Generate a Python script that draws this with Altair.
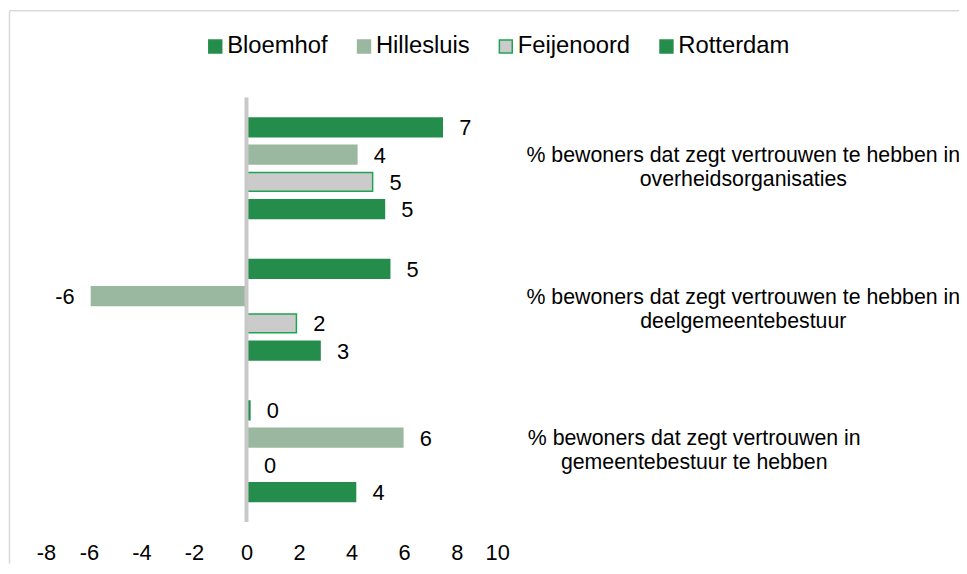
import altair as alt
import pandas as pd

# ---- data ----
categories = [
    "% bewoners dat zegt vertrouwen te hebben in overheidsorganisaties",
    "% bewoners dat zegt vertrouwen te hebben in deelgemeentebestuur",
    "% bewoners dat zegt vertrouwen in gemeentebestuur te hebben",
]
category_lines = [
    ["% bewoners dat zegt vertrouwen te hebben in", "overheidsorganisaties"],
    ["% bewoners dat zegt vertrouwen te hebben in", "deelgemeentebestuur"],
    ["% bewoners dat zegt vertrouwen in", "gemeentebestuur te hebben"],
]
series = ["Bloemhof", "Hillesluis", "Feijenoord", "Rotterdam"]
bloemhof = [7.45, 5.45, 0.13]
hillesluis = [4.2, -5.9, 5.95]
feijenoord = [4.8, 1.9, 0.02]
rotterdam = [5.25, 2.8, 4.15]
x_ticks = [-8, -6, -4, -2, 0, 2, 4, 6, 8, 10]

fill_colors = ["#248d4c", "#9ab89f", "#cacbca", "#248d4c"]
stroke_colors = ["#248d4c", "#9ab89f", "#1fa453", "#248d4c"]

values = {"Bloemhof": bloemhof, "Hillesluis": hillesluis,
          "Feijenoord": feijenoord, "Rotterdam": rotterdam}
rows = []
for s in series:
    for c, v in zip(categories, values[s]):
        rows.append({"cat": c, "series": s, "value": v})
df = pd.DataFrame(rows)

cat_df = pd.DataFrame({
    "cat": categories,
    "label": ["|".join(l) for l in category_lines],
    "idx": list(range(len(categories))),
})
zero_df = pd.DataFrame({"value": [0]})
one_df = pd.DataFrame({"a": [0]})

FONT = "Liberation Sans"

x_enc = alt.X(
    "value:Q",
    scale=alt.Scale(domain=[-8, 10], nice=False, zero=False),
    axis=alt.Axis(values=x_ticks, title=None, grid=False, domain=False,
                  ticks=False, labelFontSize=22, labelFont=FONT,
                  labelColor="#000000", labelPadding=21,
                  labelExpr="toString(datum.value)"),
)
y_enc = alt.Y("cat:N", scale=alt.Scale(domain=categories, paddingInner=0,
                                        paddingOuter=0), axis=None)
yoff = alt.YOffset("series:N", scale=alt.Scale(domain=series,
                                               paddingInner=0.31,
                                               paddingOuter=0.75))

legend = alt.Legend(title=None, orient="none", legendX=168.5, legendY=-63.5,
                    direction="horizontal", symbolType="square",
                    symbolSize=169, symbolStrokeWidth=1.5,
                    labelFontSize=24, labelFont=FONT, labelColor="#000000",
                    labelOffset=0, columnPadding=24, padding=0)

bars = alt.Chart(df).mark_bar(strokeWidth=1.5).encode(
    x=x_enc, y=y_enc, yOffset=yoff,
    fill=alt.Fill("series:N", scale=alt.Scale(domain=series, range=fill_colors),
                  legend=legend),
    stroke=alt.Stroke("series:N", scale=alt.Scale(domain=series,
                                                  range=stroke_colors),
                      legend=legend),
)

zero_rule = alt.Chart(zero_df).mark_rule(color="#c8c8c8", strokeWidth=4).encode(
    x=x_enc
)

lab_base = alt.Chart(df).transform_calculate(
    lab="toString(round(datum.value))"
)
pos_labels = lab_base.transform_filter("datum.value >= 0").mark_text(
    align="left", baseline="middle", dx=17, dy=1, fontSize=22, font=FONT,
    color="#000000"
).encode(x=x_enc, y=y_enc, yOffset=yoff, text="lab:N")
neg_labels = lab_base.transform_filter("datum.value < 0").mark_text(
    align="right", baseline="middle", dx=-17, dy=1, fontSize=22, font=FONT,
    color="#000000"
).encode(x=x_enc, y=y_enc, yOffset=yoff, text="lab:N")

cat_a = alt.Chart(cat_df).transform_filter("datum.idx < 2").mark_text(
    align="center", baseline="middle", lineBreak="|", fontSize=21.5,
    lineHeight=24, dy=-12, font=FONT, color="#000000"
).encode(y=y_enc, x=alt.value(713), text="label:N")
cat_b = alt.Chart(cat_df).transform_filter("datum.idx == 2").mark_text(
    align="center", baseline="middle", lineBreak="|", fontSize=21.5,
    lineHeight=24, dy=-12, font=FONT, color="#000000"
).encode(y=y_enc, x=alt.value(663.5), text="label:N")

frame_top = alt.Chart(one_df).mark_rule(color="#d9d9d9", strokeWidth=1.5).encode(
    x=alt.value(-27), x2=alt.value(931), y=alt.value(-87.5)
)
frame_left = alt.Chart(one_df).mark_rule(color="#d9d9d9", strokeWidth=1.5).encode(
    x=alt.value(-27), y=alt.value(-87.5), y2=alt.value(470)
)

chart = alt.layer(
    frame_top, frame_left, bars, zero_rule, pos_labels, neg_labels, cat_a, cat_b
).properties(
    width=477, height=428,
    padding={"left": 28.5, "top": 88, "right": 453.5, "bottom": 42},
    autosize=alt.AutoSizeParams(type="none"),
).configure_view(stroke=None)

chart.save("out.html", embed_options={"renderer": "svg", "actions": False})
